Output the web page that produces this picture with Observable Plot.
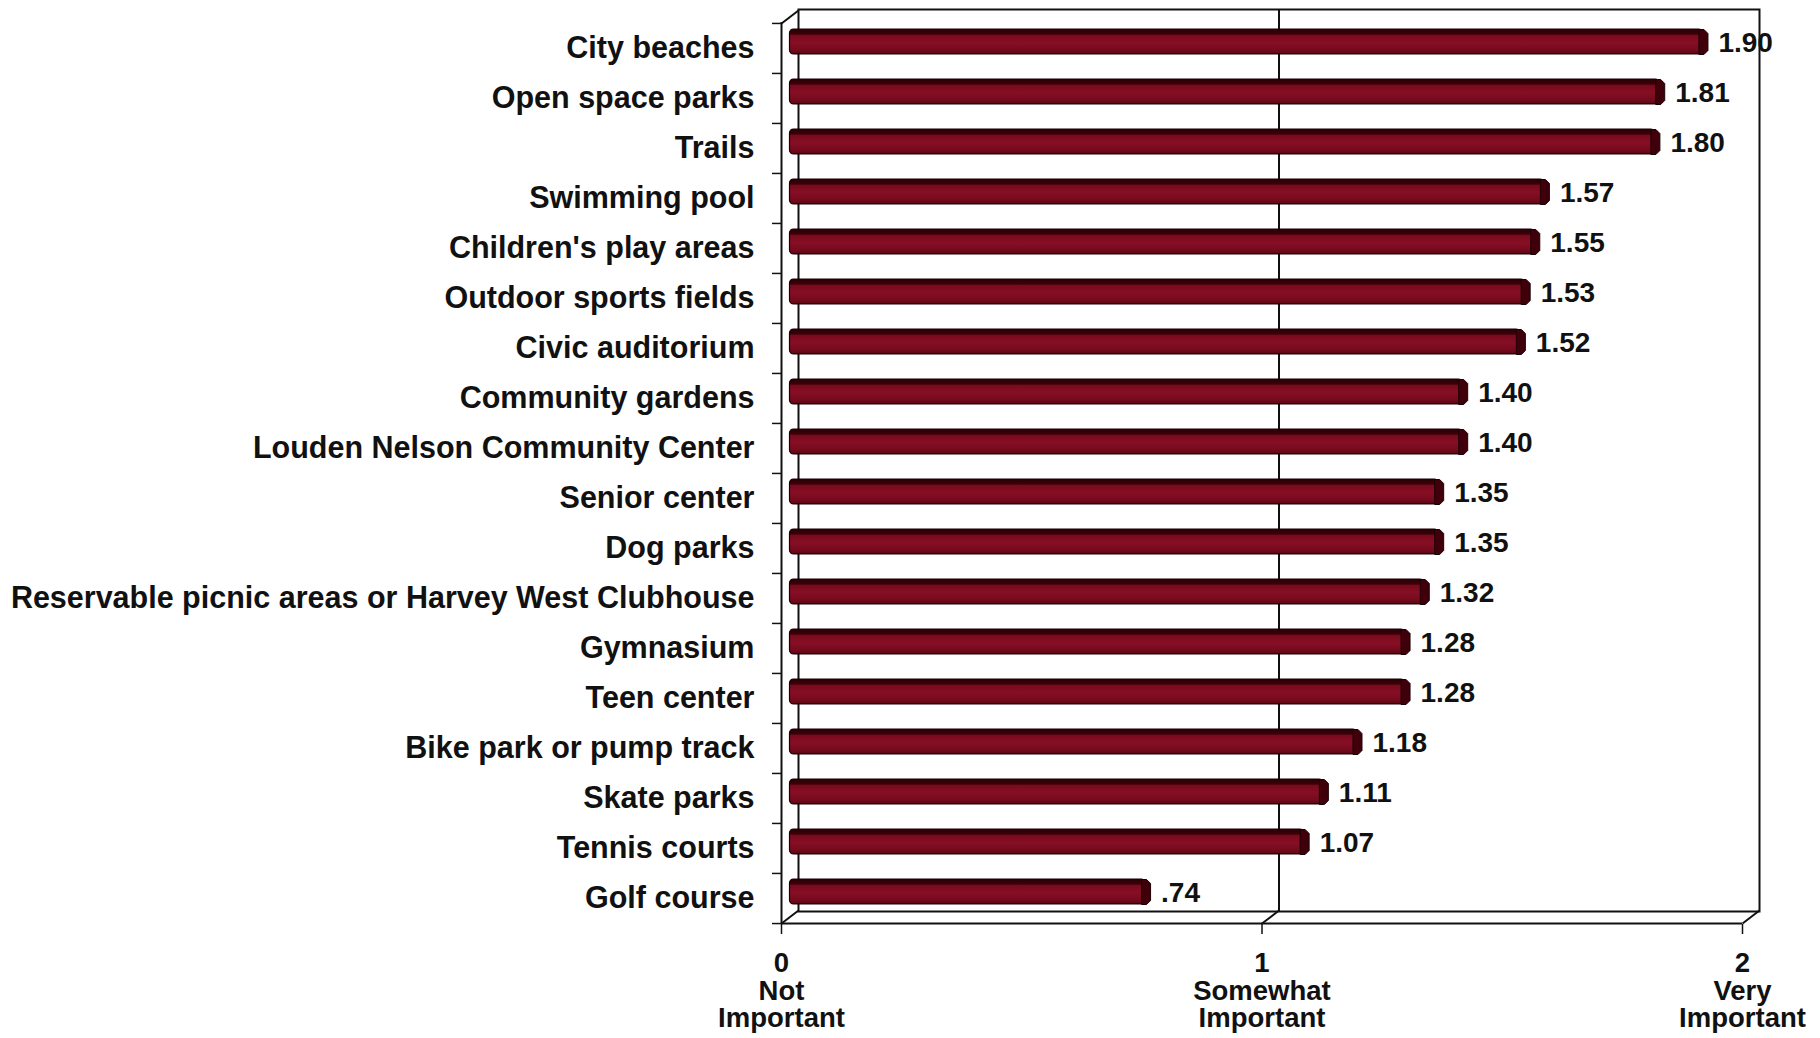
<!DOCTYPE html>
<html>
<head>
<meta charset="utf-8">
<script src="https://cdn.jsdelivr.net/npm/d3@7"></script>
<script src="https://cdn.jsdelivr.net/npm/@observablehq/plot@0.6"></script>
<style>
  html, body { margin: 0; padding: 0; background: #fff; }
  svg { display: block; }
</style>
</head>
<body>
<div id="chart"></div>
<script>
// ---- data ----
const categories = [
  "City beaches",
  "Open space parks",
  "Trails",
  "Swimming pool",
  "Children's play areas",
  "Outdoor sports fields",
  "Civic auditorium",
  "Community gardens",
  "Louden Nelson Community Center",
  "Senior center",
  "Dog parks",
  "Reservable picnic areas or Harvey West Clubhouse",
  "Gymnasium",
  "Teen center",
  "Bike park or pump track",
  "Skate parks",
  "Tennis courts",
  "Golf course"
];
const values = [1.90, 1.81, 1.80, 1.57, 1.55, 1.53, 1.52, 1.40, 1.40, 1.35, 1.35, 1.32, 1.28, 1.28, 1.18, 1.11, 1.07, 0.74];
const xTicks = [0, 1, 2];
const tickWord1 = ["Not", "Somewhat", "Very"];
const tickWord2 = ["Important", "Important", "Important"];

// ---- layout ----
const data = categories.map((name, i) => ({name, value: values[i]}));
const W = 1820, H = 1038;
const mL = 781, mR = 78, mT = 22, mB = 114;
const depthX = 17, depthY = -13;
const bw = (H - mT - mB) / categories.length;
const barH = 25;
const barInset = (bw - barH) / 2;
const font = `"Liberation Sans", Arial, Helvetica, sans-serif`;
const ink = "#111";
const fmt = v => d3.format(".2f")(v).replace(/^0\./, ".");
const first = categories[0], last = categories[categories.length - 1];

const depthSymbol = {draw(ctx) { ctx.moveTo(0, 0); ctx.lineTo(depthX, depthY); }};
const capSymbol = {draw(ctx) {
  const h = barH / 2;
  ctx.moveTo(-4, -h); ctx.lineTo(1, -h); ctx.lineTo(5, -h + 4);
  ctx.lineTo(5, h - 4); ctx.lineTo(1, h); ctx.lineTo(-4, h); ctx.closePath();
}};

const lineStyle = {stroke: ink, strokeWidth: 2};

const chart = Plot.plot({
  width: W, height: H,
  marginLeft: mL, marginRight: mR, marginTop: mT, marginBottom: mB,
  style: {fontFamily: font, background: "#fff", overflow: "visible"},
  x: {domain: [xTicks[0], xTicks[xTicks.length - 1]], axis: null, label: null},
  y: {domain: categories, padding: 0, axis: null, label: null},
  marks: [
    // back wall
    Plot.frame({dx: depthX, dy: depthY, ...lineStyle}),
    Plot.ruleX(xTicks.slice(1, -1), {dx: depthX, dy: depthY, ...lineStyle}),
    // front axes
    Plot.ruleX([xTicks[0]], lineStyle),
    Plot.ruleY([last], {dy: bw / 2, ...lineStyle}),
    Plot.dot(xTicks, {x: d => d, y: () => last, dy: bw / 2, symbol: depthSymbol, fill: "none", ...lineStyle}),
    Plot.dot([xTicks[0]], {x: d => d, y: () => first, dy: -bw / 2, symbol: depthSymbol, fill: "none", ...lineStyle}),
    Plot.axisY({ticks: categories, tickSize: 9, tickFormat: () => "", label: null, dy: -bw / 2, stroke: ink, strokeWidth: 1.5}),
    Plot.axisY({ticks: [last], tickSize: 9, tickFormat: () => "", label: null, dy: bw / 2, stroke: ink, strokeWidth: 1.5}),
    Plot.axisX({ticks: xTicks, tickSize: 10, tickFormat: () => "", label: null, stroke: ink, strokeWidth: 1.5}),
    // bars
    Plot.barX(data, {x: "value", y: "name", dx: depthX / 2, dy: depthY / 2,
      insetTop: barInset, insetBottom: barInset, rx: 4,
      fill: "url(#barGrad)", stroke: "#1c0004", strokeWidth: 1.2}),
    Plot.dot(data, {x: "value", y: "name", dx: depthX / 2, dy: depthY / 2,
      symbol: capSymbol, fill: "#3f000c", stroke: "#1c0004", strokeWidth: 1}),
    // labels
    Plot.text(data, {y: "name", text: "name", frameAnchor: "left", textAnchor: "end", dx: -27,
      fontSize: 30.5, fontWeight: "bold", fill: ink}),
    Plot.text(data, {x: "value", y: "name", text: d => fmt(d.value), textAnchor: "start",
      dx: 24, dy: -5, fontSize: 28, fontWeight: "bold", fill: ink}),
    Plot.text(xTicks, {x: d => d, frameAnchor: "bottom", lineAnchor: "top", dy: 28,
      text: (d, i) => `${d}\n${tickWord1[i]}\n${tickWord2[i]}`,
      fontSize: 27.5, lineHeight: 1.0, fontWeight: "bold", fill: ink})
  ]
});

const defs = d3.select(chart).insert("defs", ":first-child");
const grad = defs.append("linearGradient").attr("id", "barGrad")
  .attr("x1", 0).attr("y1", 0).attr("x2", 0).attr("y2", 1);
[["0%", "#2a0005"], ["20%", "#3c0009"], ["26%", "#7a0a1e"], ["55%", "#860f25"], ["85%", "#740a1c"], ["100%", "#5a0514"]]
  .forEach(([o, c]) => grad.append("stop").attr("offset", o).attr("stop-color", c));

document.getElementById("chart").appendChild(chart);
</script>
</body>
</html>
